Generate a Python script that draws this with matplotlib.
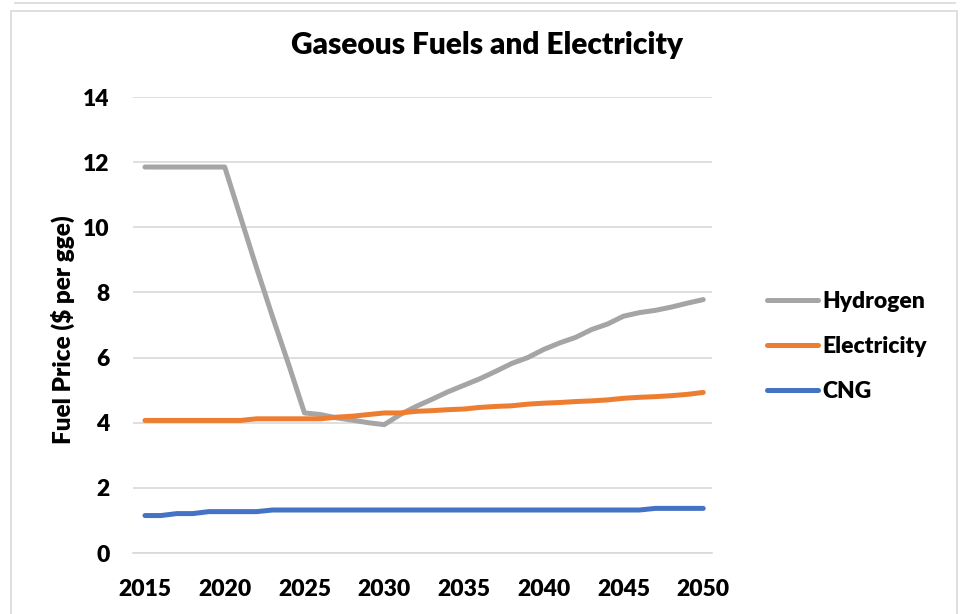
import matplotlib
matplotlib.use("Agg")
import matplotlib.pyplot as plt
from matplotlib.patches import Rectangle
from matplotlib.lines import Line2D

years = list(range(2015, 2051))

hydrogen = [11.85, 11.85, 11.85, 11.85, 11.85, 11.85,
            10.3, 8.75, 7.25, 5.8, 4.3,
            4.25, 4.15, 4.08, 4.0, 3.94,
            4.25, 4.5, 4.72, 4.95, 5.15, 5.35, 5.58, 5.82, 6.0, 6.25,
            6.45, 6.62, 6.86, 7.03, 7.27, 7.38, 7.45, 7.55, 7.67, 7.78]

electricity = [4.07, 4.07, 4.07, 4.07, 4.07, 4.07, 4.07,
               4.12, 4.12, 4.12, 4.12, 4.12,
               4.17, 4.2, 4.25, 4.3, 4.3, 4.35, 4.37, 4.4, 4.42,
               4.47, 4.5, 4.52, 4.57, 4.6, 4.62, 4.65, 4.67, 4.7,
               4.75, 4.78, 4.8, 4.83, 4.87, 4.93]

cng = [1.15, 1.15, 1.21, 1.21, 1.27, 1.27, 1.27, 1.27,
       1.32, 1.32, 1.32, 1.32, 1.32, 1.32, 1.32, 1.32, 1.32, 1.32,
       1.32, 1.32, 1.32, 1.32, 1.32, 1.32, 1.32, 1.32, 1.32, 1.32,
       1.32, 1.32, 1.32, 1.32, 1.37, 1.37, 1.37, 1.37]

series_names = ["Hydrogen", "Electricity", "CNG"]
series_colors = ["#A5A5A5", "#ED7D31", "#4472C4"]
x_ticks = [2015, 2020, 2025, 2030, 2035, 2040, 2045, 2050]
y_ticks = [0, 2, 4, 6, 8, 10, 12, 14]

WEIGHT = "heavy"
plt.rcParams["font.family"] = ["Lato", "DejaVu Sans"]
plt.rcParams["font.weight"] = WEIGHT

fig = plt.figure(figsize=(9.65, 6.14), dpi=100)
fig.patch.set_facecolor("white")

# chart frame and the edge of the chart above
fig.patches.append(Rectangle((11 / 965, -0.01), 946 / 965, 1 - 11 / 614 + 0.01,
                             transform=fig.transFigure, fill=False,
                             edgecolor="#D9D9D9", linewidth=1.2))
fig.lines.append(Line2D([15 / 965, 955 / 965], [1 - 3 / 614, 1 - 3 / 614],
                        transform=fig.transFigure, color="#D9D9D9", linewidth=1.2))

ax = fig.add_axes([133 / 965, 1 - 553 / 614, 579 / 965, 456 / 614])

for name, vals, col in zip(series_names, [hydrogen, electricity, cng], series_colors):
    ax.plot(years, vals, color=col, linewidth=3.6, solid_capstyle="round",
            solid_joinstyle="round", label=name, zorder=3)

ax.set_xlim(2014.25, 2050.55)
ax.set_ylim(0, 14)
ax.set_xticks(x_ticks)
ax.set_yticks(y_ticks)
ax.tick_params(axis="both", length=0, labelsize=16.5, colors="black")
ax.tick_params(axis="x", pad=19)
ax.tick_params(axis="y", pad=17)
for lbl in ax.get_xticklabels() + ax.get_yticklabels():
    lbl.set_fontweight(WEIGHT)

ax.grid(axis="y", color="#D9D9D9", linewidth=1.2, zorder=0)
for side in ["top", "right", "left"]:
    ax.spines[side].set_visible(False)
ax.spines["bottom"].set_color("#D9D9D9")
ax.spines["bottom"].set_linewidth(1.2)

ax.set_ylabel("Fuel Price ($ per gge)", fontsize=17.5, fontweight=WEIGHT)
ax.yaxis.set_label_coords(-0.10, 0.49)

fig.text(487 / 965, 1 - 45 / 614, "Gaseous Fuels and Electricity",
         ha="center", va="center", fontsize=21.5, fontweight=WEIGHT)

leg = ax.legend(loc="center left", bbox_to_anchor=(1.06, 0.452), frameon=False,
                fontsize=16.5, handlelength=2.2, handletextpad=0.2, labelspacing=1.05)
for t in leg.get_texts():
    t.set_fontweight(WEIGHT)

fig.savefig("out.png", dpi=100, facecolor="white")
